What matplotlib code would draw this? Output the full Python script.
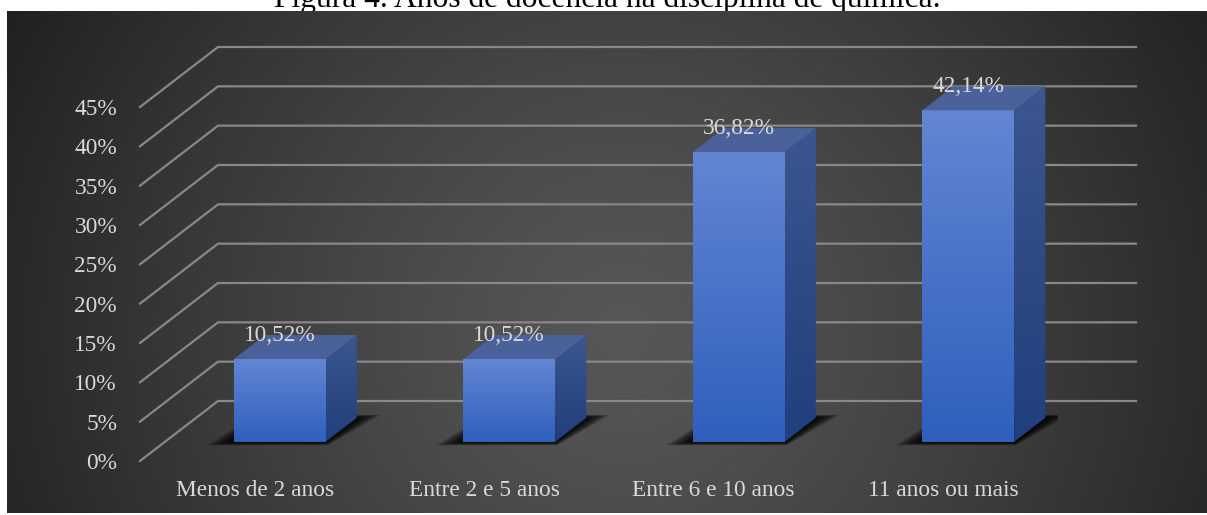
import numpy as np
import matplotlib
matplotlib.use("Agg")
import matplotlib.pyplot as plt
from matplotlib.colors import to_rgb
from matplotlib.patches import Polygon

# Data
categories = ["Menos de 2 anos", "Entre 2 e 5 anos", "Entre 6 e 10 anos", "11 anos ou mais"]
percent = [10.52, 10.52, 36.82, 42.14]
value_labels = ["10,52%", "10,52%", "36,82%", "42,14%"]
y_ticks = [0, 5, 10, 15, 20, 25, 30, 35, 40, 45]
y_tick_labels = ["0%", "5%", "10%", "15%", "20%", "25%", "30%", "35%", "40%", "45%"]
title = "Figura 4. Anos de docência na disciplina de química."

plt.rcParams["font.family"] = ["Liberation Serif", "DejaVu Serif"]

W, H = 1207, 515
fig = plt.figure(figsize=(W / 100, H / 100), dpi=100)
fig.patch.set_facecolor("white")

# front plane of the chart, in pixels
front_left, front_right = 140, 1058
zero_y = 461                      # 0% line, from the top
px_per_pct = 354 / 45
depth_px = (78, 60)               # floor depth (right, up)
y_top = 55

# oblique depth in data units
px_per_cat = (front_right - front_left) / len(categories)
DX = depth_px[0] / px_per_cat
DY = depth_px[1] / px_per_pct
bar_w = 0.4
f0, f1 = 0.32, 0.72               # bar front / back depth fraction
label_size = 16.8


def proj(x, y, f):
    return (x + f * DX, y + f * DY)


# title sits behind the dark panel
fig.text(607 / W, (H - 7.5) / H, title, ha="center", va="baseline",
         fontsize=22.7, color="black", zorder=-1)

# dark panel with radial shading
bg = fig.add_axes([7 / W, 2 / H, 1200 / W, 502 / H], zorder=0)
bg.set_axis_off()
yy, xx = np.mgrid[0:502, 0:1200]
r = np.hypot((xx - 615) / 640, (yy - 320) / 620)
shade = (0x57 - 0x31 * np.clip(r, 0, 1.15) ** 1.25) / 255
bg.imshow(np.dstack([shade] * 3).clip(0, 1), aspect="auto",
          extent=(0, 1, 0, 1), interpolation="bilinear")
bg.set_xlim(0, 1)
bg.set_ylim(0, 1)

ax = fig.add_axes([front_left / W, (H - zero_y) / H,
                   (front_right - front_left) / W, y_top * px_per_pct / H],
                  zorder=1)
ax.set_facecolor("none")
for s in ax.spines.values():
    s.set_visible(False)

# gridlines: floor diagonal + back wall
grid_color = "#888888"
for v in y_ticks:
    pts = [proj(-0.5, v, 0), proj(-0.5, v, 1), proj(len(categories) - 0.5, v, 1)]
    xs, ys = zip(*pts)
    ax.plot(xs, ys, color=grid_color, lw=1.6, clip_on=False, zorder=1,
            solid_joinstyle="miter")


def gradient_face(verts, top, bottom, zorder):
    poly = Polygon(verts, closed=True, facecolor="none", edgecolor="none")
    ax.add_patch(poly)
    t = np.linspace(0, 1, 256)[:, None, None]
    rgb = np.array(to_rgb(top))[None, None, :] * (1 - t) + \
        np.array(to_rgb(bottom))[None, None, :] * t
    xs, ys = zip(*verts)
    im = ax.imshow(rgb, extent=(min(xs), max(xs), min(ys), max(ys)),
                   origin="upper", aspect="auto", zorder=zorder,
                   interpolation="bilinear")
    im.set_clip_path(poly)


for i, v in enumerate(percent):
    x0, x1 = i - bar_w / 2, i + bar_w / 2

    # soft floor shadow, stacked translucent footprints
    n = 30
    for k in range(n):
        s = 1 - k / n
        shadow = [proj(x0 - 0.10 * s, 0, f0 - 0.06 * s),
                  proj(x1 + 0.03 * s, 0, f0 - 0.06 * s),
                  proj(x1 + 0.09 * s, 0, f1 + 0.05 * s),
                  proj(x0 - 0.06 * s, 0, f1 + 0.05 * s)]
        ax.add_patch(Polygon(shadow, closed=True, facecolor="black",
                             edgecolor="none", alpha=0.05, zorder=2))

    front = [proj(x0, 0, f0), proj(x1, 0, f0), proj(x1, v, f0), proj(x0, v, f0)]
    side = [proj(x1, 0, f0), proj(x1, 0, f1), proj(x1, v, f1), proj(x1, v, f0)]
    top = [proj(x0, v, f0), proj(x1, v, f0), proj(x1, v, f1), proj(x0, v, f1)]
    gradient_face(front, "#6286d2", "#2f5fbd", 3)
    gradient_face(side, "#3c5690", "#203f7d", 3)
    ax.add_patch(Polygon(top, closed=True, facecolor="#4a6299",
                         edgecolor="none", zorder=3))

    lx, _ = proj(i, v, f0)
    _, ly = proj(i, v, f1)
    ax.text(lx, ly, value_labels[i], ha="center", va="center",
            fontsize=label_size, color="#d9d9d9", zorder=5)

ax.set_xlim(-0.5, len(categories) - 0.5)
ax.set_ylim(0, y_top)
ax.set_yticks(y_ticks, labels=y_tick_labels)
ax.set_xticks(range(len(categories)), labels=categories)
ax.tick_params(axis="both", length=0, colors="#d9d9d9", labelsize=label_size)
ax.tick_params(axis="y", pad=16.5)
ax.tick_params(axis="x", pad=13.5)

fig.savefig("out.png", dpi=100)
